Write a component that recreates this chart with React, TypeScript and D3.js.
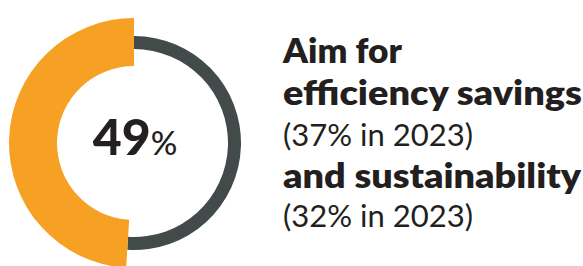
import React from "react";
import * as d3 from "d3";

const shareLabels = ["Aim", "Other"];
const shareValues = [49, 51];
const centerValue = "49";
const headingLines = ["Aim for", "efficiency savings", "(37% in 2023)", "and sustainability", "(32% in 2023)"];
const headingBold = [true, true, false, true, false];

const W = 583;
const H = 266;
const cx = 134;
const cy = 143;
const ORANGE = "#F6A024";
const GRAY = "#434A4A";
const TEXT = "#231F20";
const FONT = "Lato, 'Open Sans', sans-serif";

export default function App() {
  const total = d3.sum(shareValues);
  const orangeEnd = -(shareValues[0] / total) * 2 * Math.PI;
  const grayArc = d3.arc<any>().innerRadius(94).outerRadius(107);
  const orangeArc = d3.arc<any>().innerRadius(77).outerRadius(125);
  const grayData = { startAngle: 0, endAngle: 2 * Math.PI + orangeEnd };
  const orangeData = { startAngle: orangeEnd, endAngle: 0 };
  const baselines = [63, 105, 146, 188, 227];
  const sizes = [34, 34, 31, 34, 31];
  const lengths = [119, 299, 190, 298, 190];
  return (
    <svg width={W} height={H} style={{ position: "absolute", left: 0, top: 0 }}>
      <g transform={`translate(${cx},${cy})`}>
        <path d={grayArc(grayData) as string} fill={GRAY} />
        <path d={orangeArc(orangeData) as string} fill={ORANGE} />
        <text x={1} y={12} fontFamily={FONT} fill={TEXT} textAnchor="middle">
          <tspan fontSize={50} fontWeight={900}>{centerValue}</tspan>
          <tspan fontSize={33} fontWeight={500}>%</tspan>
        </text>
      </g>
      {headingLines.map((t, i) => (
        <text
          key={i}
          x={283}
          y={baselines[i]}
          fontFamily={FONT}
          fontSize={sizes[i]}
          fontWeight={headingBold[i] ? 800 : 400}
          fill={TEXT}
          textLength={lengths[i]}
          lengthAdjust="spacingAndGlyphs"
        >
          {t}
        </text>
      ))}
      <desc>{shareLabels.join(",")}</desc>
    </svg>
  );
}
